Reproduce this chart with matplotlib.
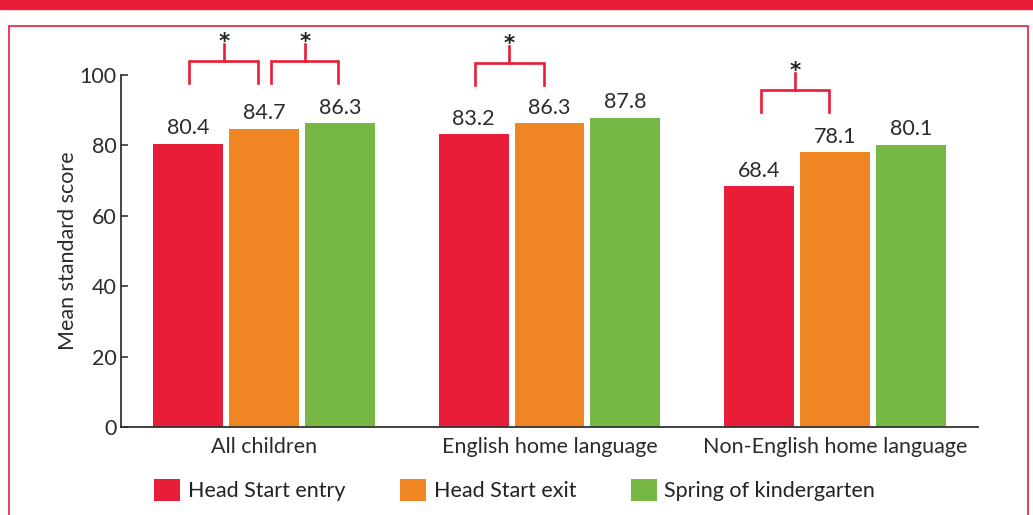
import numpy as np
import matplotlib.pyplot as plt
from matplotlib.patches import Rectangle

plt.rcParams['font.family'] = ['Lato', 'DejaVu Sans']

groups = ["All children", "English home language", "Non-English home language"]
series = ["Head Start entry", "Head Start exit", "Spring of kindergarten"]
entry = [80.4, 83.2, 68.4]
exit_ = [84.7, 86.3, 78.1]
spring = [86.3, 87.8, 80.1]
colors = ["#E81D37", "#EF8523", "#76B843"]
# significance brackets: (group, bar_a, bar_b, height)
brackets = [(0, 0, 1, 104.0), (0, 1, 2, 104.0), (1, 0, 1, 103.5), (2, 0, 1, 95.7)]

red = "#E81D37"
txt = "#2B2B2B"
fs = 15.5

fig = plt.figure(figsize=(10.33, 5.15), dpi=100)
ax = fig.add_axes([121/1033, 1 - 427/515, 857/1033, 352/515])

x = np.arange(len(groups))
w = 0.245
off = 0.266
for i, (vals, c, name) in enumerate(zip([entry, exit_, spring], colors, series)):
    pos = x + (i - 1) * off
    ax.bar(pos, vals, width=w, color=c, label=name)
    for p, v in zip(pos, vals):
        ax.annotate(f"{v:.1f}", (p, v), xytext=(0, 4), textcoords="offset points",
                    ha="center", va="bottom", fontsize=fs, color=txt)

for g, a, b, h in brackets:
    xa = g + (a - 1) * off + (0.025 if a == 1 else 0.005)
    xb = g + (b - 1) * off - (0.02 if b == 1 else 0.005)
    ax.plot([xa, xa, xb, xb], [h - 6.3, h, h, h - 6.3], color=red, lw=1.9,
            clip_on=False, solid_joinstyle="miter")
    xm = (xa + xb) / 2
    ax.plot([xm, xm], [h, h + 4.8], color=red, lw=1.9, clip_on=False)
    ax.text(xm, h + 2.6, "*", ha="center", va="bottom", fontsize=15.5,
            fontweight="bold", color="#222222", family="DejaVu Sans")

ax.set_xlim(-0.5, 2.5)
ax.set_ylim(0, 100)
ax.set_yticks([0, 20, 40, 60, 80, 100])
ax.set_xticks(x)
ax.set_xticklabels(groups)
ax.tick_params(axis="y", direction="in", length=5, width=1.2, pad=3,
               labelsize=fs, labelcolor=txt, color="#333333")
ax.tick_params(axis="x", length=0, pad=7, labelsize=fs, labelcolor=txt)
for s in ["top", "right"]:
    ax.spines[s].set_visible(False)
for s in ["left", "bottom"]:
    ax.spines[s].set_color("#333333")
    ax.spines[s].set_linewidth(1.3)
ax.set_ylabel("Mean standard score", fontsize=fs, color=txt)
ax.yaxis.set_label_coords(-0.05, 0.5)

fig.legend(loc="center left", bbox_to_anchor=(135/1033, 1 - 490/515), ncol=3,
           frameon=False, fontsize=fs, handlelength=1.2, handleheight=1.2,
           handletextpad=0.35, columnspacing=2.55, labelcolor="#222222")

# frame
fig.patches.append(Rectangle((0, 1 - 9/515), 1, 9/515, transform=fig.transFigure,
                             color=red, zorder=0))
fig.patches.append(Rectangle((9/1033, -0.05), 1019/1033, 1.0, transform=fig.transFigure,
                             fill=False, edgecolor=red, lw=1.2, zorder=0))

fig.savefig("out.png", dpi=100)
